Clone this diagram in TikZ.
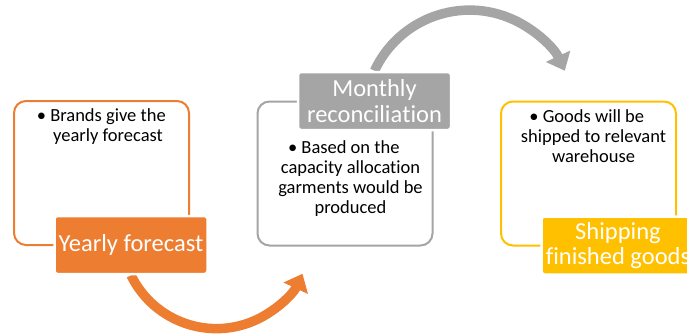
\documentclass[tikz,border=0pt]{standalone}
\usepackage{fontspec}
\setmainfont[Ligatures={NoCommon,NoContextual},RawFeature={-clig;-dlig;-calt}]{Carlito}
\usetikzlibrary{arrows.meta,backgrounds}
\definecolor{fcorange}{HTML}{ED7D31}
\definecolor{fcgray}{HTML}{A5A5A5}
\definecolor{fcyellow}{HTML}{FFC000}
\begin{document}
\begin{tikzpicture}[x=1pt,y=1pt,
    outline/.style={draw=#1, line width=2pt, rounded corners=12pt,
      minimum width=175pt, minimum height=144pt},
    stage/.style={fill=#1, draw=white, line width=2.5pt, rounded corners=3pt,
      text=white, minimum width=153pt, minimum height=58pt, align=center,
      inner sep=0pt, font=\fontsize{24.5}{25.5}\selectfont},
    bullets/.style={align=center, anchor=north, inner sep=0pt,
      font=\fontsize{18.5}{20.3}\selectfont},
    curved/.style={draw=#1, line width=9.5pt, -{Triangle[width=26pt,length=16pt]}}]
        \useasboundingbox (0,0) rectangle (687,333);
        \clip (0,0) rectangle (687,333);

        % Outline boxes
        \node[outline=fcorange] (brandsbox) at (101.5,160) {};
        \node[outline=fcgray] (monthlybox) at (345,159.5) {};
        \node[outline=fcyellow] (goodsbox) at (588.5,159.5) {};

        % Stage labels
        \node[stage=fcorange] (yearly) at (131,88) {Yearly forecast};
        \node[stage=fcgray] (monthly) at (374.5,232) {Monthly\\reconcilia\kern0pt tion};
        \node[stage=fcyellow] (shipping) at (618,87.5) {Shipping\\finished goods};

        % Bullet texts
        \node[bullets] (brandstext) at ([xshift=6.5,yshift=-8]brandsbox.north)
            {\llap{\textbullet\ }Brands give the\\yearly forecast};
        \node[bullets] (monthlytext) at ([xshift=5.5,yshift=-39.5]monthlybox.north)
            {\llap{\textbullet\ }Based on the\\capacity allocation\\garments would be\\produced};
        \node[bullets] (goodstext) at ([xshift=5,yshift=-8.5]goodsbox.north)
            {\llap{\textbullet\ }Goods will be\\shipped to relevant\\warehouse};

        % Curved arrows between stages
        \begin{scope}[on background layer]
        \draw[curved=fcorange] (yearly.south) arc[start angle=206, end angle=335, radius=95];
        \draw[curved=fcgray] (monthly.north) arc[start angle=155, end angle=25, radius=105];
        \end{scope}

\end{tikzpicture}
\end{document}
